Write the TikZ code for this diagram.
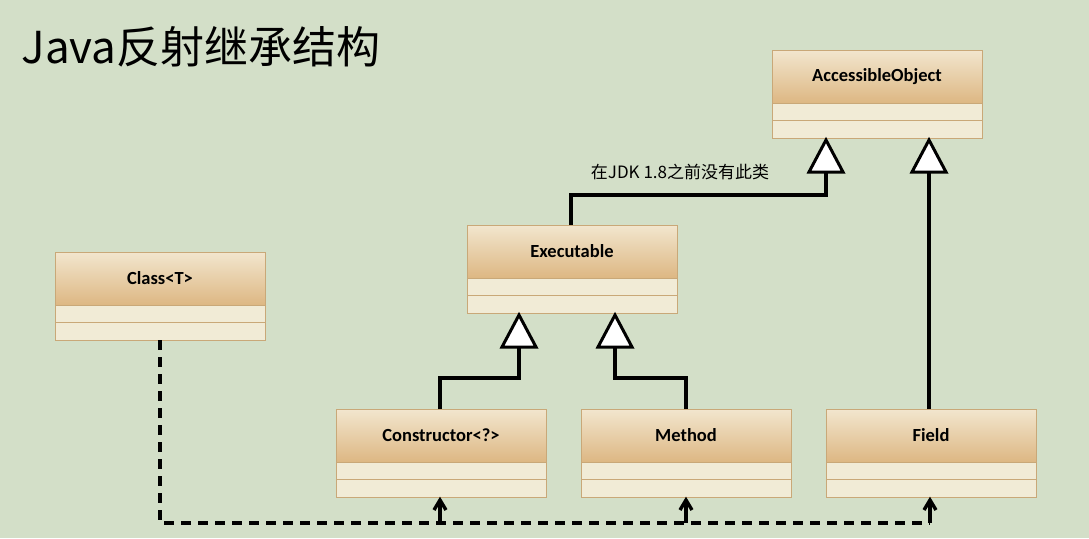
\documentclass[tikz,border=0pt]{standalone}
\usepackage{fontspec}
\setmainfont{Carlito}
\newfontfamily\cjk{Noto Sans CJK SC}
\usetikzlibrary{arrows.meta}
\definecolor{bg}{HTML}{D3DFC8}
\definecolor{hdtop}{HTML}{F2E6CE}
\definecolor{hdbot}{HTML}{DDB783}
\definecolor{cmp}{HTML}{F1EBD6}
\definecolor{edge}{HTML}{C9A878}
\tikzset{x=1pt,y=-1pt,
 tri/.style={draw=black,line width=3pt,fill=white,line join=miter},
 inh/.style={line width=3.6pt},
 dep/.style={line width=3.6pt,dash pattern=on 10pt off 7pt},
 lbl/.style={font=\bfseries\fontsize{18.5}{18.5}\selectfont}}
\newcommand{\umlbox}[4]{% name, x, y, text
 \shade[top color=hdtop,bottom color=hdbot] (#2,#3) rectangle ++(210,53);
 \fill[cmp] (#2,#3+53) rectangle ++(210,35);
 \draw[edge,line width=1pt] (#2,#3) rectangle ++(210,88) (#2,#3+53) -- ++(210,0) (#2,#3+70.5) -- ++(210,0);
 \node[lbl] (#1) at (#2+105,#3+26.5) {#4};
 \coordinate (#1-b) at (#2+105,#3+88);
}
\begin{document}
\begin{tikzpicture}
\fill[bg] (0,0) rectangle (1089,538);
\useasboundingbox (0,0) rectangle (1089,538);
\node[anchor=west,font=\cjk\fontsize{44}{44}\selectfont] (title) at (18,47) {Java反射继承结构};
\umlbox{ao}{772}{50}{AccessibleObject}
\umlbox{ex}{467}{225}{Executable}
\umlbox{cl}{55}{252}{Class<T>}
\umlbox{co}{336}{409}{Constructor<?>}
\umlbox{me}{581}{409}{Method}
\umlbox{fi}{826}{409}{Field}
% inheritance lines
\draw[inh] (571,225) -- (571,195) -- (826,195) -- (826,168);
\draw[inh] (929,409) -- (929,168);
\draw[inh] (440,409) -- (440,378) -- (519,378) -- (519,346);
\draw[inh] (686,409) -- (686,378) -- (615,378) -- (615,346);
\foreach \x/\y in {826/140,929/140,519/315,615/315}
  \draw[tri] (\x,\y) -- (\x-17,\y+32) -- (\x+17,\y+32) -- cycle;
\node[font=\cjk\fontsize{17}{17}\selectfont] (note) at (680,172) {在JDK 1.8之前没有此类};
% dependencies
\draw[dep] (160,340) -- (160,523) -- (930,523);
\foreach \x in {440,686,930}{
  \draw[line width=3.4pt] (\x,523) -- (\x,503);
  \draw[line width=3.4pt,line join=miter] (\x-6,510) -- (\x,500) -- (\x+6,510);}
\end{tikzpicture}
\end{document}
